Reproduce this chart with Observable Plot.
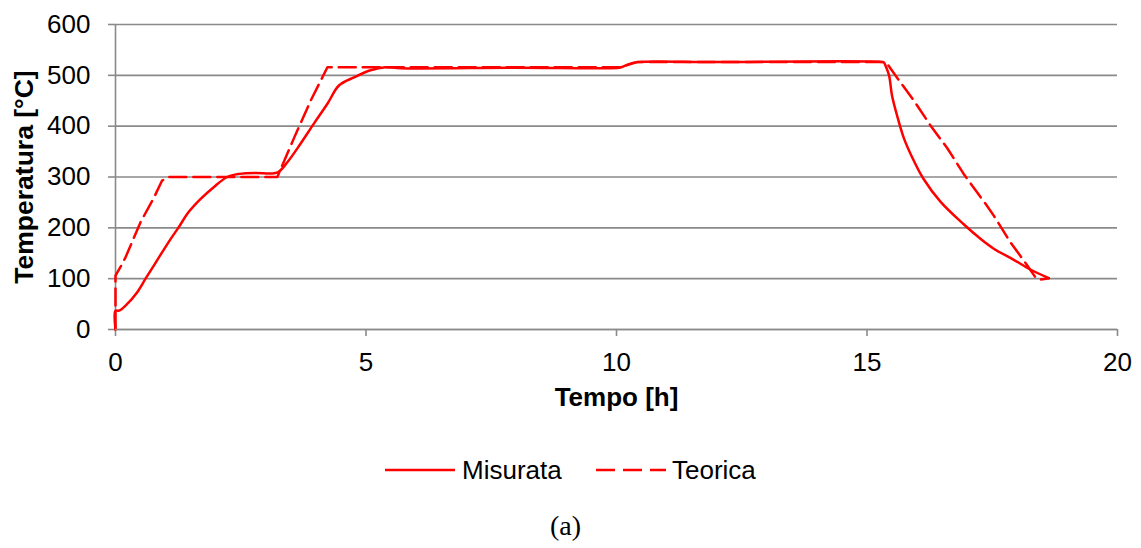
<!DOCTYPE html>
<html><head><meta charset="utf-8">
<script src="https://cdn.jsdelivr.net/npm/d3@7"></script>
<script src="https://cdn.jsdelivr.net/npm/@observablehq/plot@0.6"></script>
<style>
body{margin:0;background:#fff;font-family:"Liberation Sans",Arial,sans-serif;width:1141px;height:548px;position:relative;overflow:hidden;}
#chart{position:absolute;left:0;top:0;}
.leg{position:absolute;top:455px;height:30px;display:flex;align-items:center;font-size:26px;color:#000;}
#caption{position:absolute;top:508px;left:0;width:1141px;text-align:center;font-family:"Liberation Serif","Times New Roman",serif;font-size:28px;line-height:36px;padding-right:10px;box-sizing:border-box;}
</style></head><body>
<div id="chart"></div>
<div class="leg" style="left:385px"><svg width="70" height="30"><line x1="0" y1="15" x2="70" y2="15" stroke="#ff0000" stroke-width="2.5"/></svg><span style="margin-left:7px">Misurata</span></div>
<div class="leg" style="left:596px"><svg width="70" height="30"><line x1="0" y1="15" x2="70" y2="15" stroke="#ff0000" stroke-width="2.5" stroke-dasharray="19,8"/></svg><span style="margin-left:6px">Teorica</span></div>
<div id="caption">(a)</div>
<script>
const misurataX = [0,0,0.07,0.23,0.43,0.6,0.83,1.06,1.26,1.46,1.7,1.96,2.23,2.46,2.8,3.09,3.24,3.43,3.69,3.96,4.23,4.46,4.76,5.09,5.39,5.69,8,10.05,10.12,10.25,10.41,12,15.32,15.34,15.37,15.44,15.5,15.6,15.73,15.9,16.13,16.47,16.93,17.27,17.53,17.93,18.26,18.63];
const misurataT = [0,37,37,50,73,100,136,172,201,231,257,280,300,306,308,307,309,329,365,405,444,480,496,510,516,514,515,515,517,522,526,526,526,525,519,500,460,421,378,339,296,251,207,178,159,137,118,101];
const teoricaX = [0,0,0.1,0.2,0.5,0.77,0.93,1.06,3.23,3.56,3.89,4.23,10.08,10.41,15.36,15.4,15.64,15.93,16.27,16.6,16.93,17.27,17.37,17.53,17.86,18.2,18.36,18.46,18.63];
const teoricaT = [0,106,123,142,211,260,293,300,300,376,449,516,516,526,526,523,490,451,401,357,306,260,247,224,172,126,103,98,101];
const xTicks = [0,5,10,15,20];
const yTicks = [0,100,200,300,400,500,600];

const mis = misurataX.map((x,i)=>({x, y: misurataT[i]}));
const teo = teoricaX.map((x,i)=>({x, y: teoricaT[i]}));

const gray = "#8a8a8a";
const chart = Plot.plot({
  width: 1141,
  height: 425,
  marginLeft: 115,
  marginRight: 24,
  marginTop: 24,
  marginBottom: 96,
  style: {fontFamily: '"Liberation Sans", Arial, sans-serif', color: "#000", background: "#fff"},
  x: {domain: [0,20]},
  y: {domain: [0,600]},
  marks: [
    Plot.gridY(yTicks, {stroke: gray, strokeOpacity: 1, strokeWidth: 1.6}),
    Plot.ruleX([0], {stroke: gray, strokeWidth: 1.6}),
    Plot.axisX(xTicks, {tickSize: 7, tickPadding: 16, fontSize: 26, stroke: gray, strokeWidth: 1.6, label: null, fill: "#000"}),
    Plot.axisY(yTicks, {tickSize: 7, tickPadding: 18, fontSize: 26, stroke: gray, strokeWidth: 1.6, label: null, fill: "#000"}),
    Plot.text(["Tempo [h]"], {frameAnchor: "bottom", dy: 76, fontSize: 26, fontWeight: "bold", fill: "#000", textAnchor: "middle"}),
    Plot.text(["Temperatura [°C]"], {frameAnchor: "left", dx: -91, rotate: -90, fontSize: 26.5, fontWeight: "bold", fill: "#000", textAnchor: "middle"}),
    Plot.line(teo, {x: "x", y: "y", stroke: "#ff0000", strokeWidth: 2.5, strokeDasharray: "17,7", curve: "linear"}),
    Plot.line(mis, {x: "x", y: "y", stroke: "#ff0000", strokeWidth: 2.5, curve: "catmull-rom"}),
    Plot.ruleY([0], {stroke: gray, strokeWidth: 1.6})
  ]
});
document.getElementById("chart").appendChild(chart);
</script>
</body></html>
